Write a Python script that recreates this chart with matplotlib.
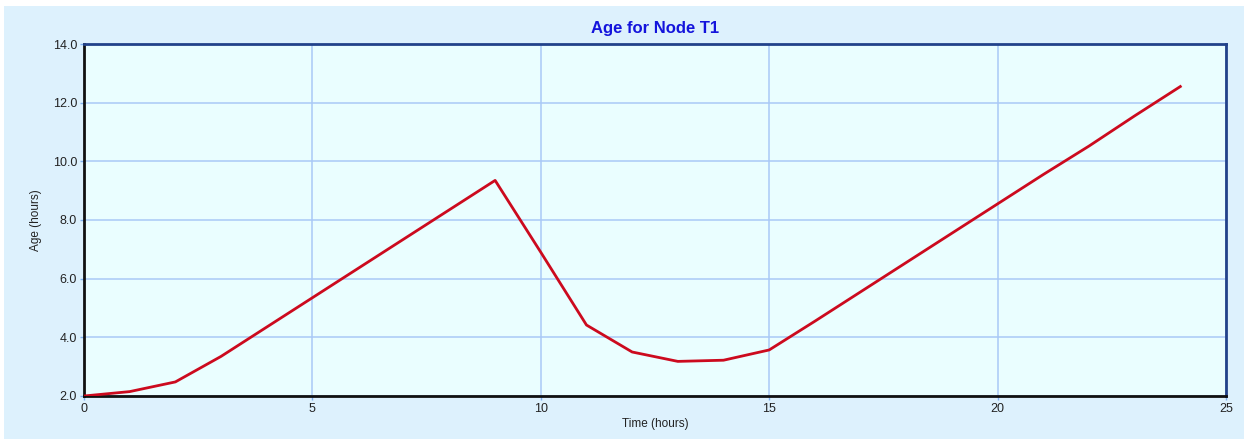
import matplotlib
matplotlib.use('Agg')
import matplotlib.pyplot as plt
from matplotlib.patches import Rectangle

plt.rcParams['font.family'] = ['Liberation Sans', 'DejaVu Sans']

# hourly age values
hours = [0, 1, 2, 3, 4, 5, 6, 7, 8, 9, 10, 11, 12, 13, 14, 15, 16, 17, 18, 19, 20, 21, 22, 23, 24]
age = [2.0, 2.15, 2.48, 3.35, 4.35, 5.35, 6.35, 7.35, 8.35, 9.35, 6.9, 4.42, 3.5, 3.18, 3.22, 3.57,
       4.55, 5.55, 6.55, 7.55, 8.55, 9.55, 10.52, 11.55, 12.55]
xticks = [0, 5, 10, 15, 20, 25]
yticks = [2.0, 4.0, 6.0, 8.0, 10.0, 12.0, 14.0]

fig = plt.figure(figsize=(12.47, 4.41), dpi=100, facecolor='white')
# light blue panel behind the chart
fig.patches.append(Rectangle((4/1247, 2/441), 1240/1247, 433/441, transform=fig.transFigure,
                             facecolor='#DDF1FD', edgecolor='none', zorder=-1))

ax = fig.add_axes([84/1247, 45/441, 1142/1247, 352/441])
ax.set_facecolor('#EAFEFF')

ax.plot(hours, age, color='#CC0A1E', linewidth=2, zorder=3)

ax.set_xlim(0, 25)
ax.set_ylim(2, 14)
ax.set_xticks(xticks)
ax.set_yticks(yticks)
ax.set_yticklabels([f'{v:.1f}' for v in yticks])
ax.grid(True, color='#A9C9F7', linewidth=1.1)
ax.set_axisbelow(True)

ax.tick_params(axis='both', length=3, width=1, color='#7FB0F0', labelsize=9,
               labelcolor='#222222', pad=2)

for side in ['left', 'bottom']:
    ax.spines[side].set_color('#111111')
    ax.spines[side].set_linewidth(2)
for side in ['top', 'right']:
    ax.spines[side].set_color('#22428A')
    ax.spines[side].set_linewidth(2)

ax.set_title('Age for Node T1', fontsize=12, fontweight='bold', color='#1414DC', pad=8)
ax.set_xlabel('Time (hours)', fontsize=8.5, color='#222222', labelpad=2)
ax.set_ylabel('Age (hours)', fontsize=8.5, color='#222222', labelpad=8)

plt.savefig('out.png', dpi=100, facecolor=fig.get_facecolor())
plt.close()
